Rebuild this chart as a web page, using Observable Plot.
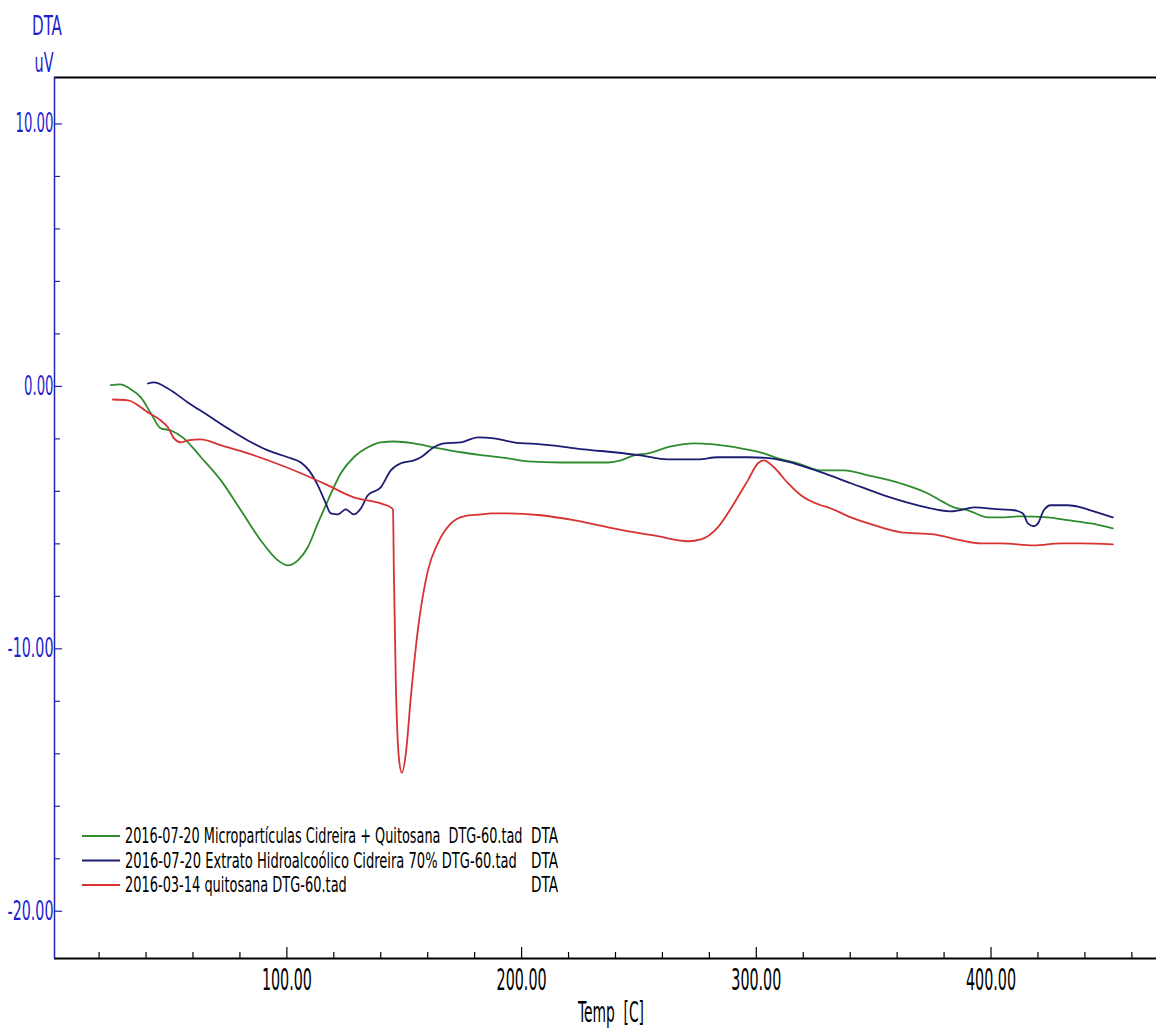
<!DOCTYPE html>
<html>
<head>
<meta charset="utf-8">
<script src="https://cdn.jsdelivr.net/npm/d3@7"></script>
<script src="https://cdn.jsdelivr.net/npm/@observablehq/plot@0.6"></script>
<style>
html, body { margin: 0; padding: 0; background: #fff; }
#chart { width: 1156px; height: 1030px; overflow: hidden; }
svg text { font-family: "Liberation Sans Narrow", "Arial Narrow", "DejaVu Sans Condensed", "Liberation Sans", sans-serif; }
</style>
</head>
<body>
<div id="chart"></div>
<script>
// ---------------- data ----------------
const seriesNames = [
  "2016-07-20 Micropartículas Cidreira + Quitosana  DTG-60.tad",
  "2016-07-20 Extrato Hidroalcoólico Cidreira 70% DTG-60.tad",
  "2016-03-14 quitosana DTG-60.tad"
];
const seriesSignal = ["DTA", "DTA", "DTA"];
const seriesColors = ["#2e8b2e", "#1c1c72", "#d83232"];

const greenTemp = [25.0, 29.0, 33.0, 37.8, 42.1, 46.3, 50.6, 56.1, 63.4, 71.9, 80.4, 88.9, 96.2, 100.4, 104.7, 108.9, 113.2, 117.5, 123.0, 128.5, 134.5, 140.0, 145.6, 154.1, 162.6, 174.1, 183.9, 194.2, 202.7, 216.7, 236.8, 242.3, 247.8, 253.8, 263.6, 273.4, 281.9, 293.4, 303.2, 309.2, 317.7, 327.5, 337.3, 347.6, 361.6, 373.1, 379.9, 384.2, 390.2, 398.7, 404.2, 412.7, 424.2, 432.8, 442.6, 451.9];
const greenDTA  = [0.05, 0.08, -0.08, -0.42, -1.03, -1.60, -1.68, -1.98, -2.70, -3.58, -4.72, -5.87, -6.63, -6.82, -6.63, -6.13, -5.22, -4.34, -3.31, -2.70, -2.32, -2.13, -2.10, -2.17, -2.32, -2.51, -2.63, -2.74, -2.86, -2.90, -2.90, -2.82, -2.63, -2.55, -2.29, -2.17, -2.21, -2.36, -2.55, -2.74, -2.93, -3.20, -3.20, -3.39, -3.70, -4.08, -4.42, -4.61, -4.72, -4.99, -4.99, -4.95, -4.99, -5.10, -5.22, -5.41];

const blueTemp = [40.8, 43.3, 49.3, 57.8, 66.3, 74.9, 83.4, 91.9, 100.4, 106.0, 109.4, 113.2, 116.6, 118.7, 121.7, 125.1, 128.5, 131.5, 134.5, 140.0, 144.3, 148.6, 154.1, 157.1, 162.6, 166.9, 174.1, 181.4, 188.2, 196.7, 208.2, 219.7, 226.5, 239.3, 250.8, 262.3, 275.1, 283.6, 296.4, 306.2, 316.0, 327.5, 340.3, 354.4, 368.9, 382.9, 390.2, 392.7, 404.2, 409.8, 413.6, 415.7, 418.3, 420.0, 422.5, 425.5, 432.8, 438.3, 443.8, 451.9];
const blueDTA  = [0.11, 0.15, -0.08, -0.61, -1.10, -1.60, -2.06, -2.44, -2.70, -2.90, -3.20, -3.77, -4.46, -4.84, -4.88, -4.69, -4.88, -4.65, -4.15, -3.85, -3.20, -2.93, -2.82, -2.70, -2.32, -2.17, -2.13, -1.94, -1.98, -2.13, -2.21, -2.32, -2.40, -2.51, -2.63, -2.78, -2.78, -2.70, -2.70, -2.74, -2.93, -3.27, -3.69, -4.15, -4.53, -4.76, -4.65, -4.61, -4.69, -4.72, -4.84, -5.22, -5.33, -5.22, -4.72, -4.53, -4.53, -4.61, -4.76, -4.99];

const redTemp = [25.9, 32.3, 40.8, 46.3, 49.3, 51.9, 54.8, 57.8, 63.4, 71.9, 83.4, 94.5, 106.0, 117.5, 128.5, 140.0, 144.3, 145.2, 145.6, 146.4, 147.7, 149.0, 150.7, 152.8, 155.8, 160.1, 164.3, 169.9, 175.4, 182.7, 186.9, 194.2, 208.2, 222.3, 236.8, 250.8, 256.4, 270.9, 276.4, 283.6, 290.5, 296.4, 300.7, 303.2, 307.5, 313.5, 319.0, 327.5, 330.5, 340.3, 350.1, 361.6, 375.7, 387.2, 395.7, 404.2, 418.3, 429.8, 438.3, 451.9];
const redDTA  = [-0.50, -0.53, -0.99, -1.30, -1.56, -1.98, -2.13, -2.06, -2.02, -2.25, -2.55, -2.90, -3.31, -3.77, -4.23, -4.46, -4.61, -4.69, -7.12, -11.22, -14.13, -14.73, -13.98, -11.85, -9.29, -7.01, -5.98, -5.22, -4.95, -4.88, -4.84, -4.84, -4.91, -5.10, -5.37, -5.60, -5.68, -5.90, -5.83, -5.37, -4.46, -3.58, -2.93, -2.82, -3.08, -3.69, -4.15, -4.53, -4.61, -4.99, -5.29, -5.56, -5.64, -5.87, -5.98, -5.98, -6.06, -5.98, -5.98, -6.02];

const xDomain = [1, 470.5];
const yDomain = [-21.8, 11.77];
const xMajorTicks = [100, 200, 300, 400];
const xMinorTicks = d3.range(20, 461, 20).filter(d => d % 100 !== 0);
const yMajorTicks = [10, 0, -10, -20];
const yMinorTicks = d3.range(-20, 11, 2).filter(d => d % 10 !== 0);
const xLabel = "Temp  [C]";
const yLabelTop = "DTA";
const yLabelUnit = "uV";

// ---------------- table ----------------
const temps = [greenTemp, blueTemp, redTemp];
const vals = [greenDTA, blueDTA, redDTA];
const rows = [];
seriesNames.forEach((name, i) => {
  temps[i].forEach((t, j) => rows.push({series: name, temp: t, dta: vals[i][j]}));
});

const W = 1156, H = 1030;
const mL = 54, mR = 0, mT = 77, mB = 72;
const frameW = W - mL - mR, frameH = H - mT - mB;
const axisBlue = "#2323b4";
const labelBlue = "#1f1fd0";

const chart = Plot.plot({
  width: W,
  height: H,
  marginLeft: mL,
  marginRight: mR,
  marginTop: mT,
  marginBottom: mB,
  style: {fontFamily: '"Liberation Sans Narrow","Arial Narrow","DejaVu Sans Condensed",sans-serif', background: "#fff", overflow: "visible"},
  x: {domain: xDomain},
  y: {domain: yDomain},
  color: {domain: seriesNames, range: seriesColors},
  marks: [
    Plot.ruleY([yDomain[1]], {stroke: "#000", strokeWidth: 2}),
    Plot.ruleY([yDomain[0]], {stroke: "#000", strokeWidth: 2}),
    Plot.ruleX([xDomain[0]], {stroke: axisBlue, strokeWidth: 1.5}),
    Plot.tickX(xMinorTicks, {x: d => d, stroke: "#000", strokeWidth: 1.2, insetTop: frameH - 6}),
    Plot.tickX(xMajorTicks, {x: d => d, stroke: "#000", strokeWidth: 1.2, insetTop: frameH - 11}),
    Plot.tickY(yMinorTicks, {y: d => d, stroke: axisBlue, strokeWidth: 1.2, insetRight: frameW - 6}),
    Plot.tickY(yMajorTicks, {y: d => d, stroke: axisBlue, strokeWidth: 1.2, insetRight: frameW - 8}),
    Plot.axisX({ticks: xMajorTicks, tickFormat: d => d.toFixed(2), tickSize: 0, tickPadding: 10, fontSize: 30, color: "#000", label: null}),
    Plot.axisY({ticks: yMajorTicks, tickFormat: d => d.toFixed(2), tickSize: 0, tickPadding: 1, fontSize: 26, color: labelBlue, label: null}),
    Plot.line(rows, {x: "temp", y: "dta", z: "series", stroke: "series", strokeWidth: 1.8, curve: "monotone-x"})
  ]
});

document.getElementById("chart").appendChild(chart);
const svg = d3.select(chart);

function numWidth(s, dig, dot, minus) {
  let w = 0;
  for (const c of s) w += c === "." ? dot : c === "-" ? minus : dig;
  return w;
}
// horizontally compress a text element to a target width with a transform
// (only x is moved into the transform; y / dy stay as Plot set them)
function squeeze(node, w) {
  const natural = node.getComputedTextLength();
  if (!natural) return;
  const k = w / natural;
  const xa = node.getAttribute("x");
  const x = xa == null ? 0 : parseFloat(xa) || 0;
  const t = node.getAttribute("transform") || "";
  node.setAttribute("x", 0);
  node.setAttribute("transform", `${t} translate(${x},0) scale(${k},1)`);
}
svg.selectAll('g[aria-label="y-axis tick label"] text').each(function() {
  squeeze(this, numWidth(this.textContent, 8.5, 4, 8));
});
svg.selectAll('g[aria-label="x-axis tick label"] text').each(function() {
  squeeze(this, numWidth(this.textContent, 9.1, 4.5, 8));
});

const addText = (x, y, txt, opts) => {
  const t = svg.append("text")
    .attr("x", x).attr("y", y)
    .attr("text-anchor", opts.anchor || "start")
    .attr("font-size", opts.size)
    .attr("fill", opts.fill || "#000")
    .style("white-space", "pre")
    .text(txt);
  if (opts.width) squeeze(t.node(), opts.width);
  return t;
};
addText(47, 35, yLabelTop, {anchor: "middle", size: 26, fill: labelBlue, width: 30});
addText(44, 72, yLabelUnit, {anchor: "middle", size: 26, fill: labelBlue, width: 19});
addText(611, 1022, xLabel, {anchor: "middle", size: 28, fill: "#000", width: 66});

// legend
const legendRowsY = [836, 860.5, 885];
const legendWidths = [398, 392, 222];
seriesNames.forEach((name, i) => {
  const y = legendRowsY[i];
  svg.append("line").attr("x1", 82).attr("x2", 120).attr("y1", y).attr("y2", y)
    .attr("stroke", seriesColors[i]).attr("stroke-width", 1.8);
  addText(125, y + 7.5, name, {size: 20.5, width: legendWidths[i]});
  addText(558, y + 7.5, seriesSignal[i], {anchor: "end", size: 20.5, width: 27});
});
</script>
</body>
</html>
